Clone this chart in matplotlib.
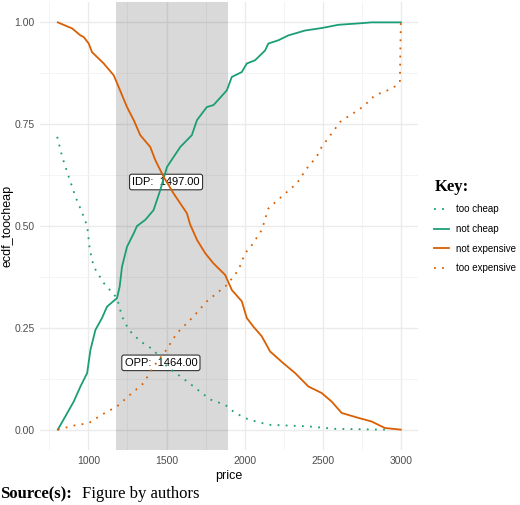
import numpy as np
import matplotlib.pyplot as plt
from matplotlib.lines import Line2D

# values
price_too_cheap = [800, 832, 874, 917, 970, 992, 1009, 1034, 1098, 1183, 1215, 1258, 1332, 1417,
                   1503, 1588, 1673, 1780, 1875, 1939, 2024, 2152, 2408, 2578, 2898]
too_cheap = [0.719, 0.670, 0.621, 0.572, 0.523, 0.50, 0.441, 0.400, 0.360, 0.323, 0.278, 0.245,
             0.217, 0.196, 0.155, 0.131, 0.106, 0.074, 0.061, 0.041, 0.025, 0.012, 0.008, 0.002, 0.0]

price_not_cheap = [804, 853, 906, 949, 992, 1013, 1045, 1087, 1119, 1183, 1200, 1215, 1247, 1290,
                   1311, 1364, 1417, 1460, 1503, 1588, 1662, 1695, 1758, 1801, 1886, 1918, 1982,
                   2014, 2067, 2131, 2152, 2216, 2280, 2387, 2493, 2600, 2749, 2813, 3000]
not_cheap = [0.0, 0.033, 0.069, 0.106, 0.139, 0.196, 0.245, 0.274, 0.302, 0.323, 0.351, 0.400,
             0.449, 0.482, 0.500, 0.515, 0.539, 0.588, 0.645, 0.694, 0.723, 0.760, 0.792, 0.797,
             0.833, 0.866, 0.878, 0.899, 0.907, 0.931, 0.948, 0.956, 0.968, 0.980, 0.986, 0.994,
             0.998, 1.0, 1.0]

price_not_exp = [804, 896, 949, 970, 1002, 1023, 1098, 1162, 1194, 1247, 1290, 1332, 1396, 1428,
                 1481, 1545, 1631, 1650, 1695, 1748, 1801, 1875, 1918, 1982, 2014, 2056, 2110,
                 2163, 2248, 2323, 2408, 2493, 2557, 2621, 2727, 2813, 2898, 3000]
not_exp = [1.0, 0.985, 0.968, 0.964, 0.948, 0.927, 0.899, 0.870, 0.841, 0.792, 0.760, 0.723,
           0.694, 0.662, 0.621, 0.580, 0.531, 0.505, 0.466, 0.433, 0.408, 0.380, 0.343, 0.315,
           0.274, 0.253, 0.229, 0.192, 0.163, 0.139, 0.106, 0.090, 0.069, 0.041, 0.029, 0.020,
           0.004, 0.0]

price_too_exp = [804, 906, 1002, 1087, 1183, 1268, 1353, 1417, 1492, 1567, 1673, 1758, 1886,
                 1961, 2003, 2046, 2110, 2152, 2248, 2333, 2397, 2461, 2493, 2557, 2610, 2674,
                 2727, 2770, 2834, 2909, 2964, 2994, 3000]
too_exp = [0.0, 0.010, 0.016, 0.037, 0.057, 0.086, 0.114, 0.155, 0.192, 0.237, 0.278, 0.315,
           0.355, 0.392, 0.433, 0.453, 0.490, 0.543, 0.576, 0.604, 0.641, 0.670, 0.694, 0.727,
           0.755, 0.772, 0.784, 0.797, 0.821, 0.832, 0.843, 0.854, 1.0]

range_lo, range_hi = 1179, 1895
idp_price, idp_y = 1497, 0.608
opp_price, opp_y = 1464, 0.164

green = '#1b9e77'
orange = '#d95f02'

fig = plt.figure(figsize=(5.2, 5.05), dpi=100)
ax = fig.add_axes([40/520, 55/505, 378/520, 448/505])

ax.set_xlim(690, 3110)
ax.set_ylim(-0.05, 1.05)
ax.set_xticks([1000, 1500, 2000, 2500, 3000])
ax.set_yticks([0, 0.25, 0.5, 0.75, 1.0])
ax.set_yticklabels(['0.00', '0.25', '0.50', '0.75', '1.00'])
ax.set_xticks([750, 1250, 1750, 2250, 2750], minor=True)
ax.set_yticks([0.125, 0.375, 0.625, 0.875], minor=True)
ax.grid(True, which='major', color='#ebebeb', linewidth=1.0)
ax.grid(True, which='minor', color='#f3f3f3', linewidth=0.6)
ax.set_axisbelow(True)
for s in ax.spines.values():
    s.set_visible(False)
ax.tick_params(which='both', length=0)
ax.tick_params(labelsize=7.5, labelcolor='#4d4d4d', pad=4)
for lab in ax.get_xticklabels() + ax.get_yticklabels():
    lab.set_family('Liberation Sans')

ax.axvspan(range_lo, range_hi, color='black', alpha=0.15, lw=0, zorder=1)

ax.plot(price_too_cheap, too_cheap, color=green, lw=1.3, ls=(0, (1, 3.5)), zorder=3)
ax.plot(price_not_cheap, not_cheap, color=green, lw=1.3, zorder=3)
ax.plot(price_not_exp, not_exp, color=orange, lw=1.3, zorder=3)
ax.plot(price_too_exp, too_exp, color=orange, lw=1.3, ls=(0, (1, 3.5)), zorder=3)

box = dict(boxstyle='round,pad=0.25,rounding_size=0.2', fc='white', ec='#333333', lw=0.8)
ax.text(idp_price, idp_y, 'IDP:  %.2f' % idp_price, ha='center', va='center', fontsize=8,
        family='Liberation Sans', bbox=box, zorder=2)
ax.text(opp_price, opp_y, 'OPP:  %.2f' % opp_price, ha='center', va='center', fontsize=8,
        family='Liberation Sans', bbox=box, zorder=2)

ax.set_xlabel('price', fontsize=9, family='Liberation Sans', labelpad=3)
ax.set_ylabel('ecdf_toocheap', fontsize=9, family='Liberation Sans')
ax.yaxis.set_label_coords(-0.071, 0.5)

handles = [Line2D([], [], color=green, lw=1.3, ls=(0, (1, 3.5))),
           Line2D([], [], color=green, lw=1.3),
           Line2D([], [], color=orange, lw=1.3),
           Line2D([], [], color=orange, lw=1.3, ls=(0, (1, 3.5)))]
names = ['too cheap', 'not cheap', 'not expensive', 'too expensive']
leg = ax.legend(handles, names, loc='center left', bbox_to_anchor=(1.02, 0.5),
                frameon=False, title='Key:', handlelength=1.5, handletextpad=0.7,
                labelspacing=1.0, prop={'family': 'Liberation Sans', 'size': 7},
                title_fontproperties={'family': 'Liberation Serif', 'weight': 'bold', 'size': 12})
leg._legend_box.align = 'left'

fig.text(0.0, 7/505, 'Source(s):', fontsize=12, family='Liberation Serif', weight='bold',
         ha='left', va='baseline')
fig.text(82/520, 7/505, 'Figure by authors', fontsize=12, family='Liberation Serif',
         ha='left', va='baseline')

fig.savefig('out.png', dpi=100)
